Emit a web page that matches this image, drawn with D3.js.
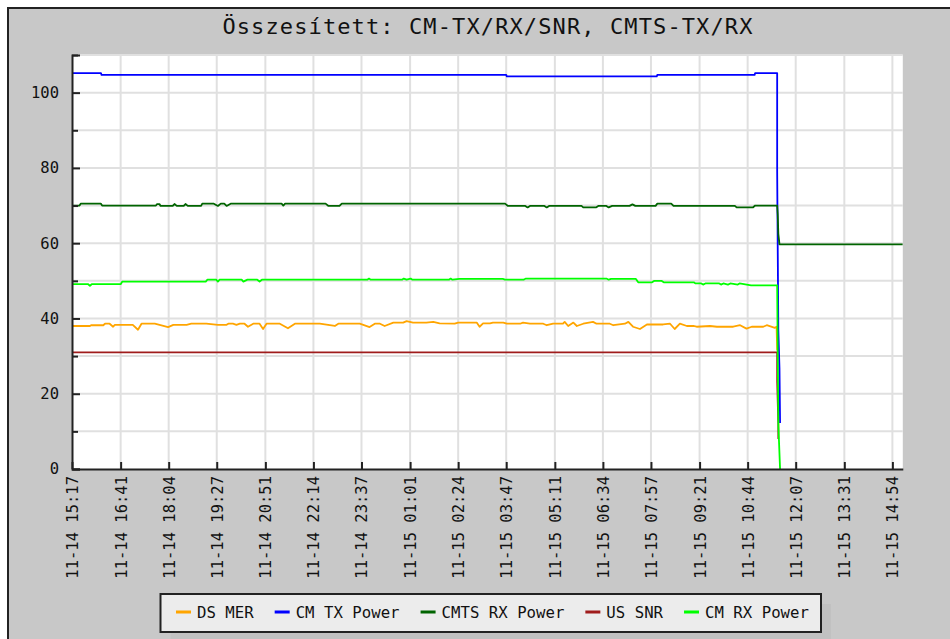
<!DOCTYPE html>
<html>
<head>
<meta charset="utf-8">
<script src="https://cdn.jsdelivr.net/npm/d3@7"></script>
<style>
	body { margin: 0; background: #fff; }
	svg { display: block; }
</style>
</head>
<body>
<svg id="chart" width="950" height="639"></svg>
<script>
	var title = "Összesített: CM-TX/RX/SNR, CMTS-TX/RX";
	var timeStart = "11-14 15:17";
	var timeEnd = "11-15 15:12";

	var tickLabels = ["11-14 15:17", "11-14 16:41", "11-14 18:04", "11-14 19:27", "11-14 20:51", "11-14 22:14",
		"11-14 23:37", "11-15 01:01", "11-15 02:24", "11-15 03:47", "11-15 05:11", "11-15 06:34",
		"11-15 07:57", "11-15 09:21", "11-15 10:44", "11-15 12:07", "11-15 13:31", "11-15 14:54"];
	var yMajor = [0, 20, 40, 60, 80, 100];
	var yMinor = [10, 30, 50, 70, 90, 110];

	var seriesNames = ["DS MER", "CM TX Power", "CMTS RX Power", "US SNR", "CM RX Power"];
	var seriesColors = ["#ffa500", "#0000ff", "#006400", "#a01c1c", "#00ff00"];

	var dsMer = [["11-14 15:17", 38.0], ["11-14 15:48", 38.0], ["11-14 15:50", 38.2], ["11-14 16:11", 38.2], ["11-14 16:14", 38.6],
		["11-14 16:22", 38.6], ["11-14 16:28", 37.8], ["11-14 16:31", 38.3], ["11-14 17:02", 38.3], ["11-14 17:11", 37.0],
		["11-14 17:17", 38.6], ["11-14 17:40", 38.6], ["11-14 18:03", 37.7], ["11-14 18:12", 38.3], ["11-14 18:35", 38.3],
		["11-14 18:43", 38.6], ["11-14 19:09", 38.6], ["11-14 19:29", 38.3], ["11-14 19:44", 38.3], ["11-14 19:47", 38.6],
		["11-14 19:55", 38.6], ["11-14 20:01", 38.3], ["11-14 20:07", 38.6], ["11-14 20:15", 38.6], ["11-14 20:21", 37.8],
		["11-14 20:30", 38.6], ["11-14 20:41", 38.6], ["11-14 20:47", 37.2], ["11-14 20:53", 38.6], ["11-14 21:16", 38.6],
		["11-14 21:30", 37.4], ["11-14 21:42", 38.6], ["11-14 22:25", 38.6], ["11-14 22:51", 38.0], ["11-14 22:57", 38.6],
		["11-14 23:34", 38.6], ["11-14 23:51", 37.7], ["11-15 00:00", 38.6], ["11-15 00:09", 38.6], ["11-15 00:17", 38.0],
		["11-15 00:32", 38.9], ["11-15 00:49", 38.9], ["11-15 00:55", 39.3], ["11-15 01:06", 38.9], ["11-15 01:29", 38.9],
		["11-15 01:41", 39.1], ["11-15 01:52", 38.7], ["11-15 02:18", 38.6], ["11-15 02:24", 38.9], ["11-15 02:56", 38.9],
		["11-15 03:01", 37.8], ["11-15 03:07", 38.7], ["11-15 03:19", 38.7], ["11-15 03:24", 38.9], ["11-15 03:42", 38.9],
		["11-15 03:48", 38.6], ["11-15 04:11", 38.6], ["11-15 04:16", 38.9], ["11-15 04:28", 38.6], ["11-15 04:51", 38.6],
		["11-15 04:57", 38.2], ["11-15 05:08", 38.6], ["11-15 05:25", 38.6], ["11-15 05:28", 39.1], ["11-15 05:34", 38.0],
		["11-15 05:43", 38.9], ["11-15 05:49", 38.0], ["11-15 06:00", 38.6], ["11-15 06:17", 39.1], ["11-15 06:23", 38.6],
		["11-15 06:46", 38.6], ["11-15 06:52", 38.2], ["11-15 07:12", 38.6], ["11-15 07:18", 39.1], ["11-15 07:26", 37.8],
		["11-15 07:38", 37.2], ["11-15 07:50", 38.4], ["11-15 08:18", 38.4], ["11-15 08:30", 38.6], ["11-15 08:38", 37.2],
		["11-15 08:47", 38.6], ["11-15 08:59", 38.0], ["11-15 09:10", 38.0], ["11-15 09:16", 37.8], ["11-15 09:39", 38.0],
		["11-15 09:51", 37.8], ["11-15 10:19", 37.8], ["11-15 10:31", 38.2], ["11-15 10:42", 37.3], ["11-15 10:51", 37.8],
		["11-15 11:11", 37.8], ["11-15 11:17", 38.2], ["11-15 11:31", 37.5], ["11-15 11:34", 37.8], ["11-15 11:35", 31.5]];

	var cmTxPower = [["11-14 15:17", 105.2], ["11-14 16:07", 105.2], ["11-14 16:08", 104.7], ["11-15 03:47", 104.7],
		["11-15 03:48", 104.3], ["11-15 08:07", 104.3], ["11-15 08:08", 104.7], ["11-15 10:56", 104.7], ["11-15 10:57", 105.2],
		["11-15 11:35", 105.2], ["11-15 11:35", 79.1], ["11-15 11:37", 37.0], ["11-15 11:39", 26.6], ["11-15 11:40", 12.2]];

	var cmtsRxPower = [["11-14 15:17", 70.0], ["11-14 15:30", 70.0], ["11-14 15:32", 70.5], ["11-14 16:07", 70.5], ["11-14 16:09", 70.0],
		["11-14 17:42", 70.0], ["11-14 17:44", 70.4], ["11-14 17:48", 70.4], ["11-14 17:50", 69.9], ["11-14 18:11", 69.9],
		["11-14 18:14", 70.4], ["11-14 18:18", 69.9], ["11-14 18:30", 69.9], ["11-14 18:33", 70.4], ["11-14 18:37", 69.9],
		["11-14 19:00", 69.9], ["11-14 19:02", 70.5], ["11-14 19:22", 70.5], ["11-14 19:29", 69.9], ["11-14 19:34", 70.5],
		["11-14 19:40", 70.5], ["11-14 19:44", 69.9], ["11-14 19:51", 70.5], ["11-14 21:19", 70.5], ["11-14 21:22", 70.0],
		["11-14 21:25", 70.5], ["11-14 22:35", 70.5], ["11-14 22:40", 69.9], ["11-14 22:59", 69.9], ["11-14 23:03", 70.5],
		["11-15 03:45", 70.5], ["11-15 03:50", 69.9], ["11-15 04:20", 69.9], ["11-15 04:24", 69.5], ["11-15 04:28", 69.9],
		["11-15 04:53", 69.9], ["11-15 04:57", 69.5], ["11-15 05:01", 69.9], ["11-15 05:57", 69.9], ["11-15 06:00", 69.5],
		["11-15 06:22", 69.5], ["11-15 06:26", 69.9], ["11-15 06:40", 69.9], ["11-15 06:44", 69.5], ["11-15 06:50", 69.9],
		["11-15 07:20", 69.9], ["11-15 07:25", 70.3], ["11-15 07:30", 69.9], ["11-15 08:05", 69.9], ["11-15 08:08", 70.5],
		["11-15 08:32", 70.5], ["11-15 08:36", 69.9], ["11-15 10:22", 69.9], ["11-15 10:25", 69.5], ["11-15 10:53", 69.5],
		["11-15 10:57", 70.0], ["11-15 11:35", 70.0], ["11-15 11:36", 67.6], ["11-15 11:37", 62.5], ["11-15 11:39", 59.7],
		["11-15 15:12", 59.7]];

	var usSnr = [["11-14 15:17", 31.0], ["11-15 11:35", 31.0], ["11-15 11:35", 23.2], ["11-15 11:37", 12.2], ["11-15 11:37", 8.0]];

	var cmRxPower = [["11-14 15:17", 49.1], ["11-14 15:45", 49.1], ["11-14 15:48", 48.7], ["11-14 15:51", 49.1], ["11-14 16:41", 49.1],
		["11-14 16:44", 49.8], ["11-14 19:08", 49.8], ["11-14 19:11", 50.3], ["11-14 19:26", 50.3], ["11-14 19:29", 49.8],
		["11-14 19:32", 50.3], ["11-14 20:10", 50.3], ["11-14 20:13", 49.8], ["11-14 20:20", 50.3], ["11-14 20:37", 50.3],
		["11-14 20:41", 49.8], ["11-14 20:45", 50.3], ["11-14 23:47", 50.3], ["11-14 23:50", 50.6], ["11-14 23:53", 50.3],
		["11-15 00:47", 50.3], ["11-15 00:50", 50.6], ["11-15 00:55", 50.3], ["11-15 01:02", 50.6], ["11-15 01:05", 50.3],
		["11-15 02:08", 50.3], ["11-15 02:11", 50.6], ["11-15 02:14", 50.3], ["11-15 02:26", 50.5], ["11-15 03:41", 50.5],
		["11-15 03:45", 50.3], ["11-15 04:17", 50.3], ["11-15 04:21", 50.6], ["11-15 06:40", 50.6], ["11-15 06:44", 50.3],
		["11-15 06:48", 50.5], ["11-15 07:31", 50.5], ["11-15 07:35", 49.6], ["11-15 07:59", 49.6], ["11-15 08:03", 50.0],
		["11-15 08:15", 50.0], ["11-15 08:19", 49.6], ["11-15 09:11", 49.6], ["11-15 09:14", 49.3], ["11-15 09:24", 49.3],
		["11-15 09:27", 49.0], ["11-15 09:31", 49.3], ["11-15 09:55", 49.3], ["11-15 09:58", 49.0], ["11-15 10:02", 49.3],
		["11-15 10:10", 49.0], ["11-15 10:14", 49.3], ["11-15 10:27", 49.0], ["11-15 10:30", 49.3], ["11-15 10:50", 48.8],
		["11-15 11:35", 48.8], ["11-15 11:37", 12.0], ["11-15 11:40", 0]];

	var seriesData = [dsMer, cmTxPower, cmtsRxPower, usSnr, cmRxPower];

	var parse = d3.timeParse("%m-%d %H:%M");
	var monoFont = "'DejaVu Sans Mono', 'Liberation Mono', monospace";

	var svg = d3.select("#chart");
	var plotLeft = 72, plotRight = 902.8, plotTop = 55, plotBottom = 469;

	var x = d3.scaleTime()
		.domain([parse(timeStart), parse(timeEnd)])
		.range([plotLeft, plotRight]);
	var y = d3.scaleLinear()
		.domain([0, 110])
		.range([plotBottom, plotTop]);
	var tickDates = tickLabels.map(function(s) { return parse(s); });

	// grey panel with dark frame
	svg.append("rect")
		.attr("x", 8).attr("y", 8)
		.attr("width", 980).attr("height", 680)
		.attr("fill", "#c8c8c8")
		.attr("stroke", "#222")
		.attr("stroke-width", 2);

	svg.append("text")
		.attr("x", (plotLeft + plotRight) / 2)
		.attr("y", 34)
		.attr("text-anchor", "middle")
		.attr("font-family", monoFont)
		.attr("font-size", 22)
		.attr("textLength", 530)
		.attr("fill", "#111")
		.text(title);

	svg.append("rect")
		.attr("x", plotLeft).attr("y", plotTop)
		.attr("width", plotRight - plotLeft).attr("height", plotBottom - plotTop)
		.attr("fill", "#fff");

	// grid
	var grid = svg.append("g").attr("class", "grid")
		.attr("stroke", "#e0e0e0")
		.attr("stroke-width", 2);
	grid.selectAll("line.h")
		.data(yMajor.concat(yMinor).filter(function(v) { return v > 0; }))
		.enter().append("line")
			.attr("class", "h")
			.attr("x1", plotLeft).attr("x2", plotRight)
			.attr("y1", function(d) { return y(d); })
			.attr("y2", function(d) { return y(d); });
	grid.selectAll("line.v")
		.data(tickDates.slice(1))
		.enter().append("line")
			.attr("class", "v")
			.attr("y1", plotTop).attr("y2", plotBottom)
			.attr("x1", function(d) { return x(d); })
			.attr("x2", function(d) { return x(d); });

	svg.append("defs").append("clipPath")
		.attr("id", "plotClip")
		.append("rect")
			.attr("x", plotLeft).attr("y", plotTop - 2)
			.attr("width", plotRight - plotLeft).attr("height", plotBottom - plotTop + 2);

	var line = d3.line()
		.x(function(d) { return x(parse(d[0])); })
		.y(function(d) { return y(d[1]); });

	svg.append("g")
		.attr("clip-path", "url(#plotClip)")
		.selectAll("path")
		.data(seriesData)
		.enter().append("path")
			.attr("d", line)
			.attr("fill", "none")
			.attr("stroke", function(d, i) { return seriesColors[i]; })
			.attr("stroke-width", 1.8)
			.attr("stroke-linejoin", "round");

	// axes
	svg.append("g")
		.attr("transform", "translate(" + plotLeft + ",0)")
		.call(d3.axisLeft(y).tickValues(yMajor).tickSize(-8).tickPadding(13));
	svg.append("g")
		.attr("transform", "translate(" + plotLeft + ",0)")
		.call(d3.axisLeft(y).tickValues(yMinor).tickSize(-6).tickFormat(""))
		.select(".domain").remove();

	var xAxis = svg.append("g")
		.attr("transform", "translate(0," + plotBottom + ")")
		.call(d3.axisBottom(x).tickValues(tickDates).tickSize(-7).tickSizeOuter(0)
			.tickFormat(d3.timeFormat("%m-%d %H:%M")));
	xAxis.selectAll(".tick text")
		.attr("transform", "rotate(-90)")
		.attr("text-anchor", "end")
		.attr("x", -7)
		.attr("y", 0)
		.attr("dy", "0.35em");

	svg.selectAll(".domain, .tick line")
		.attr("stroke", "#222")
		.attr("stroke-width", 2);
	svg.selectAll(".tick text")
		.attr("font-family", monoFont)
		.attr("font-size", 15.5)
		.attr("fill", "#111");

	// legend
	var legendX = 160.5, legendY = 594, legendW = 660.5, legendH = 38;
	svg.append("rect")
		.attr("x", legendX + 10).attr("y", legendY + 10)
		.attr("width", legendW).attr("height", legendH)
		.attr("fill", "#c1c1c1");
	svg.append("rect")
		.attr("x", legendX).attr("y", legendY)
		.attr("width", legendW).attr("height", legendH)
		.attr("fill", "#ececec")
		.attr("stroke", "#222")
		.attr("stroke-width", 2);

	var itemX = 176;
	var midY = legendY + legendH / 2 - 1;
	seriesNames.forEach(function(name, i) {
		svg.append("line")
			.attr("x1", itemX).attr("x2", itemX + 15)
			.attr("y1", midY).attr("y2", midY)
			.attr("stroke", seriesColors[i])
			.attr("stroke-width", 3);
		var t = svg.append("text")
			.attr("x", itemX + 21)
			.attr("y", midY)
			.attr("dy", "0.36em")
			.attr("font-family", monoFont)
			.attr("font-size", 15.7)
			.attr("fill", "#111")
			.text(name);
		itemX += 21 + t.node().getComputedTextLength() + 21;
	});
</script>
</body>
</html>
